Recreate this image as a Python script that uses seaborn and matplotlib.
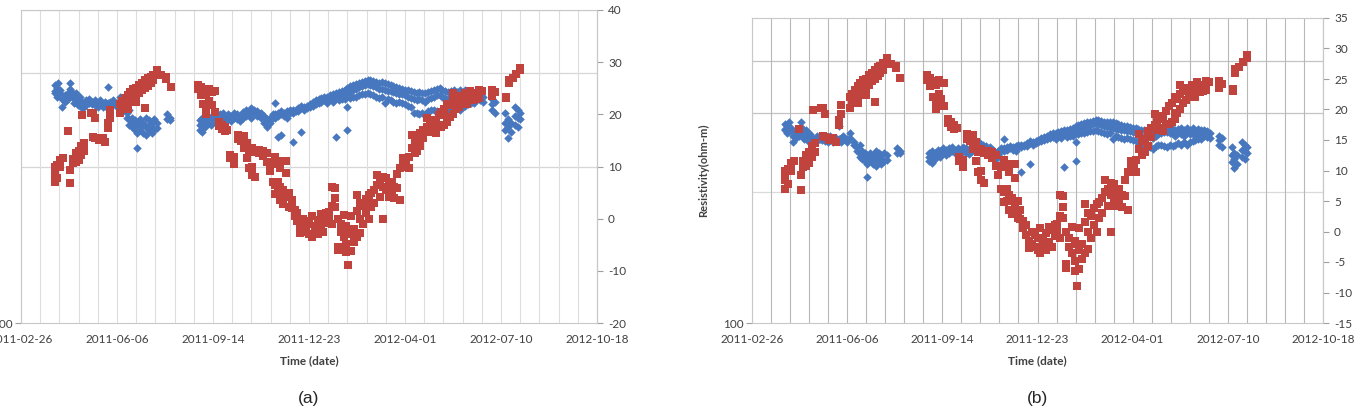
import numpy as np
import pandas as pd
import seaborn as sns
import matplotlib
matplotlib.use('Agg')
import matplotlib.pyplot as plt
import matplotlib.dates as mdates
from matplotlib.ticker import NullLocator

# **************************************************************************
# data: day offsets from 2011-02-26 -> values

start_date = '2011-02-26'

# temperature (right axis), red squares
red_obs = [
    (35, [8.4, 7.0, 9.2, 10.0]), (38, [10.2, 7.8]), (41, [11.2, 9.9]), (44, [11.6]),
    (49, [16.8]), (51, [6.8, 9.3]), (54, [10.6, 11.5]), (57, [12.5, 10.8]),
    (60, [13.0, 11.2]), (63, [14.0, 12.2]), (64, [19.9]), (66, [14.5, 13.0]),
    (73, [20.2]), (75, [15.6, 20.3]), (77, [15.5, 19.3]), (81, [15.0]), (85, [15.4]),
    (88, [14.7]), (91, [17.4, 18.3]), (93, [20.8, 19.3]), (103, [20.3, 22.0]),
    (105, [21.2, 22.6]), (108, [21.5, 23.2]), (111, [22.0, 23.8, 21.0]),
    (114, [22.8, 24.3]), (117, [23.0, 24.8]), (120, [23.5, 25.0, 22.3]),
    (123, [24.0, 25.6]), (126, [24.6, 26.0]), (129, [25.0, 26.5, 21.3]),
    (132, [25.5, 27.0]), (135, [26.0, 27.2]), (138, [26.5, 27.6]), (142, [28.5, 27.8]),
    (146, [27.5]), (151, [27.2, 26.8]), (156, [25.2]),
    (184, [25.6, 24.8]), (187, [25.2, 23.8]), (190, [24.6, 22.0]), (193, [24.0, 20.0, 21.2]),
    (196, [24.8, 22.5]), (199, [24.3, 21.8]), (202, [24.4, 20.5]), (206, [18.5, 17.8]),
    (209, [17.2, 18.0]), (212, [17.5, 16.8]), (215, [17.0]), (218, [12.2, 11.6]),
    (222, [11.8, 10.5]), (226, [16.0, 15.2]), (229, [15.5, 14.8]), (232, [15.8, 13.6]),
    (235, [11.6, 14.6]), (238, [13.0, 9.7]), (241, [13.5, 8.4, 10.0]), (244, [12.8, 8.0]),
    (248, [12.6, 13.2]), (252, [13.0, 12.0]), (256, [12.5, 10.8]), (259, [10.7, 9.2]),
    (262, [7.0, 10.5]), (265, [11.8, 6.5, 4.8]), (268, [11.0, 7.0, 5.0]),
    (270, [6.0, 9.7, 3.5]), (273, [5.5, 2.8]), (276, [11.0, 8.8, 4.2]), (279, [5.0, 2.2]),
    (282, [3.5, 2.0]), (285, [1.7, 0.5]), (288, [-0.5, 1.0]), (291, [-1.5, -2.7]),
    (294, [0.0, -2.0]), (297, [-2.5, -0.5]), (300, [-1.0, -3.0]), (303, [0.5, -3.5]),
    (306, [-1.5, -2.2]), (309, [-0.3, -3.0]), (312, [0.8, -1.8]), (315, [-2.5, 0.2]),
    (318, [1.0, -0.8]), (321, [0.0, 1.2]), (324, [2.5, 6.0, -1.0]), (327, [5.9, 2.2, 4.0]),
    (330, [-6.0, -5.4, 0.0]), (333, [-1.0, -2.5]), (336, [0.7, -3.5]),
    (339, [-4.8, -6.4, -1.5]), (341, [-8.9, -2.0]), (344, [-3.0, -6.2, 0.5]),
    (347, [-2.0, -4.5]), (350, [-3.5, 4.5, 1.5]), (353, [3.0, 0.0, -2.8]), (356, [2.5, -1.0]),
    (359, [3.8, 1.0]), (362, [0.0, 4.5]), (365, [4.9, 2.2]), (368, [5.5, 3.0]),
    (371, [8.4, 6.5]), (374, [7.0, 4.2]), (377, [6.0, 8.0, 0.0]), (380, [5.5, 7.8]),
    (383, [4.2, 6.8]), (386, [7.0, 5.0]), (389, [6.0, 4.0]), (392, [5.8, 8.5]),
    (395, [3.6, 9.7]), (398, [11.6, 10.5]), (401, [10.0, 11.2]), (404, [9.7, 11.8]),
    (407, [16.0, 13.5]), (410, [12.6, 14.8]), (413, [15.2, 13.0]), (416, [14.0, 16.5]),
    (419, [15.5, 17.0]), (423, [19.3, 17.5]), (426, [18.2, 16.6]), (429, [17.0, 19.0]),
    (432, [16.4, 18.5]), (435, [17.6, 19.8]), (438, [17.6, 20.5]), (441, [18.0, 21.0]),
    (444, [18.5, 19.5, 22.0]), (447, [19.5, 21.8]), (450, [20.0, 22.5, 24.0]),
    (453, [21.0, 23.0]), (456, [21.5, 23.5]), (459, [22.0, 22.8]), (462, [22.5, 24.0]),
    (465, [22.0, 23.8]), (468, [23.0, 24.5]), (471, [23.5, 22.8]), (474, [24.0, 23.0]),
    (477, [24.7, 23.2]), (480, [24.5]), (491, [24.7, 23.5]), (494, [24.2]),
    (505, [23.1, 23.3]), (508, [26.6, 26.0]), (512, [27.0]), (516, [27.8]), (520, [28.5, 28.9]),
]

# resistivity (left, log axis), blue diamonds
blue_obs = [
    (35, [3300, 3050, 2950]), (37, [3180, 2800]), (39, [3400, 2900]), (41, [3100, 2950]),
    (43, [2400, 2700]), (46, [2860, 2600]), (49, [2950, 2700]), (51, [3400, 3150]),
    (53, [3000, 2800]), (55, [2860, 2550]), (57, [2950, 2660]), (59, [2700, 2470]),
    (61, [2780, 2550]), (63, [2600, 2400]), (65, [2550, 2370]), (68, [2660, 2470]),
    (71, [2700, 2550]), (74, [2600, 2500]), (77, [2650, 2470]), (80, [2550, 2400]),
    (82, [2660, 2500]), (85, [2470, 2400]), (88, [2600, 2450]), (91, [3200, 2550]),
    (93, [2600, 2400]), (96, [2660, 2500]), (100, [2550, 2400]), (103, [2800, 2600]),
    (107, [2400, 2300]), (110, [2200, 2050]), (113, [2300, 2000, 1840]),
    (116, [2050, 1790, 1900]), (119, [1980, 1710, 1840]), (121, [1310, 1900, 1640]),
    (124, [2000, 1790, 1710]), (127, [1840, 1640, 1900]), (130, [1790, 1590, 2050]),
    (133, [1980, 1710, 1840]), (136, [1900, 1640, 1790]), (139, [2000, 1710]),
    (142, [1900, 1760]), (152, [2150, 2000]), (155, [2050, 1980]),
    (186, [1840, 1710, 1980]), (189, [1900, 2040, 1660]), (192, [1980, 1790]),
    (195, [2100, 1900]), (198, [2040, 1840]), (201, [1980, 2150]), (204, [2100, 1900]),
    (207, [2150, 2000]), (210, [2200, 2050]), (213, [2050, 1980]), (216, [2150, 2000]),
    (219, [2100, 1950]), (222, [2200, 2050]), (225, [2000, 2150]), (228, [2100, 1950]),
    (231, [2230, 2050]), (234, [2300, 2100]), (237, [2230, 2150]), (240, [2350, 2050]),
    (243, [2300, 2200]), (246, [2250, 2100]), (250, [2200, 2050]), (253, [2100, 1900]),
    (256, [1780, 1950, 2000]), (259, [1900, 2050]), (262, [2050, 2150]),
    (265, [2550, 2050, 2150]), (268, [2200, 2100, 1550]), (271, [2150, 2250, 1600]),
    (274, [2200, 2100]), (277, [2250, 2050]), (280, [2300, 2200]), (283, [2200, 2300, 1430]),
    (286, [2300, 2250]), (289, [2350, 2250]), (292, [2450, 2350, 1650]), (295, [2400, 2300]),
    (298, [2450, 2370]), (301, [2500, 2400]), (304, [2600, 2450]), (307, [2650, 2500]),
    (310, [2700, 2550]), (313, [2750, 2600]), (316, [2800, 2650]), (319, [2800, 2660, 2550]),
    (322, [2850, 2700]), (325, [2900, 2720, 2600]), (328, [2950, 2750, 1540]),
    (331, [3000, 2800, 2650]), (334, [3050, 2850, 2700]), (337, [3100, 2900, 2700]),
    (340, [3180, 2950, 1710, 2400]), (343, [3250, 3000, 2750]), (346, [3300, 3100, 2800]),
    (349, [3350, 3150, 2800]), (352, [3400, 3200, 2850]), (355, [3450, 3250, 2900]),
    (358, [3500, 3300, 2900]), (361, [3570, 3350, 2950]), (364, [3550, 3300, 2900]),
    (367, [3500, 3250, 2850]), (370, [3450, 3200, 2800]), (373, [3400, 3150, 2750]),
    (376, [3450, 3150, 2800]), (379, [3400, 3100, 2550]), (382, [3350, 3050, 2700]),
    (385, [3300, 3050, 2650]), (388, [3250, 3000, 2600]), (391, [3200, 2950, 2550]),
    (394, [3180, 2900, 2600]), (397, [3150, 2900, 2550]), (400, [3100, 2850, 2500]),
    (403, [3080, 2800, 2450]), (406, [3050, 2750, 2400]), (409, [3000, 2700, 2200]),
    (412, [2950, 2650, 2200]), (415, [3000, 2700, 2150]), (418, [2950, 2650, 2200]),
    (421, [2950, 2600, 2140]), (424, [3000, 2700, 2250]), (427, [3050, 2750, 2300]),
    (430, [3100, 2800, 2300]), (433, [3150, 2850, 2250]), (436, [3180, 2850, 2200]),
    (439, [3100, 2800, 2300]), (442, [3050, 2750, 2250]), (445, [3000, 2700, 2300]),
    (448, [3050, 2800, 2350]), (451, [3080, 2750, 2300]), (454, [3000, 2700, 2400]),
    (457, [3080, 2800, 2300]), (460, [3000, 2750, 2400]), (463, [3080, 2800, 2450]),
    (466, [3000, 2700, 2500]), (469, [3050, 2800, 2550]), (472, [2950, 2750, 2550]),
    (475, [2950, 2700]), (478, [2900, 2650]), (481, [2800, 2600]), (491, [2700, 2500, 2300]),
    (494, [2600, 2200]), (504, [2200, 1900, 1700]), (507, [2000, 1800, 1520]),
    (510, [1900, 1650]), (515, [2400, 2100, 1850]), (518, [2300, 2050, 1780]),
    (520, [2200, 2000]),
]

x_tick_days = [0, 100, 200, 300, 400, 500, 600]
res_grid = [1000, 3980, 10000]

BLUE = '#4778BF'
RED = '#C1433D'

# **************************************************************************


def to_frame(obs, col):
    rows = [(d, v) for d, vals in obs for v in vals]
    df = pd.DataFrame(rows, columns=['day', col])
    df['date'] = pd.Timestamp(start_date) + pd.to_timedelta(df['day'], unit='D')
    return df


def draw_panel(ax, blue_df, red_df, res_top, temp_ticks, vgrid, hgrid, ylabel):
    start = pd.Timestamp(start_date)
    ax.set_yscale('log')
    ax.set_axisbelow(True)
    sns.scatterplot(data=blue_df, x='date', y='res', ax=ax, marker='D', color=BLUE,
                    s=19, linewidth=0, legend=False, zorder=3)
    ax.set_ylim(100, res_top)

    # vertical grid every 20 days, labels every 100
    ax.set_xticks([start + pd.Timedelta(days=d) for d in x_tick_days])
    ax.set_xticks([start + pd.Timedelta(days=d) for d in range(0, 601, 20)], minor=True)
    ax.xaxis.set_major_formatter(mdates.DateFormatter('%Y-%m-%d'))
    ax.grid(True, which='both', axis='x', color=vgrid, lw=0.8)
    for val, c in zip(res_grid, hgrid):
        ax.axhline(val, color=c, lw=0.9, zorder=0)

    ax.set_yticks([100])
    ax.set_yticklabels(['100'])
    ax.yaxis.set_minor_locator(NullLocator())
    ax.tick_params(axis='x', which='major', length=4, color='#a0a0a0', labelsize=8.5,
                   labelcolor='#404040', pad=4)
    ax.tick_params(axis='x', which='minor', length=0)
    ax.tick_params(axis='y', length=4, color='#a0a0a0', labelsize=8.5, labelcolor='#404040', pad=2)
    if ylabel:
        ax.set_ylabel(ylabel, fontsize=8, fontweight='bold', color='#404040', labelpad=10)
    else:
        ax.set_ylabel('')
    for sp in ax.spines.values():
        sp.set_color('#c8c8c8')
        sp.set_linewidth(0.8)

    ax2 = ax.twinx()
    sns.scatterplot(data=red_df, x='date', y='temp', ax=ax2, marker='s', color=RED,
                    s=26, linewidth=0, legend=False, zorder=4)
    ax2.set_ylim(temp_ticks[0], temp_ticks[-1])
    ax2.set_yticks(temp_ticks)
    ax2.set_ylabel('')
    ax2.set_xlabel('')
    ax2.tick_params(axis='y', length=4, color='#a0a0a0', labelsize=8.5, labelcolor='#404040', pad=4)
    for name, sp in ax2.spines.items():
        sp.set_visible(name == 'right')
        sp.set_color('#c8c8c8')
        sp.set_linewidth(0.8)

    ax.set_xlim(start, start + pd.Timedelta(days=600))
    ax.set_xlabel('Time (date)', fontsize=8.5, fontweight='bold', color='#404040', labelpad=7)


# **************************************************************************


def run_viz():
    sns.set_style('white')
    plt.rcParams['font.family'] = ['Lato', 'DejaVu Sans']
    plt.rcParams['axes.unicode_minus'] = False

    blue_df = to_frame(blue_obs, 'res')
    red_df = to_frame(red_obs, 'temp')

    fig = plt.figure(figsize=(13.57, 4.09), dpi=100)
    ax_a = fig.add_axes([21 / 1357, 86 / 409, 576 / 1357, 313 / 409])
    ax_b = fig.add_axes([752 / 1357, 86 / 409, 571 / 1357, 305 / 409])

    draw_panel(ax_a, blue_df, red_df, 10000, list(range(-20, 41, 10)),
               '#dedede', ['#d6d6d6', '#d6d6d6', '#d6d6d6'], None)
    draw_panel(ax_b, blue_df, red_df, 21300, list(range(-15, 36, 5)),
               '#b8b8b8', ['#dadada', '#c4c4c4', '#c4c4c4'], 'Resistivity(ohm-m)')

    fig.text(309 / 1357, 1 - 398 / 409, '(a)', ha='center', va='center',
             fontsize=12.5, family=['Liberation Sans', 'DejaVu Sans'])
    fig.text(1037 / 1357, 1 - 398 / 409, '(b)', ha='center', va='center',
             fontsize=12.5, family=['Liberation Sans', 'DejaVu Sans'])

    fig.savefig('out.png', dpi=100)


run_viz()
